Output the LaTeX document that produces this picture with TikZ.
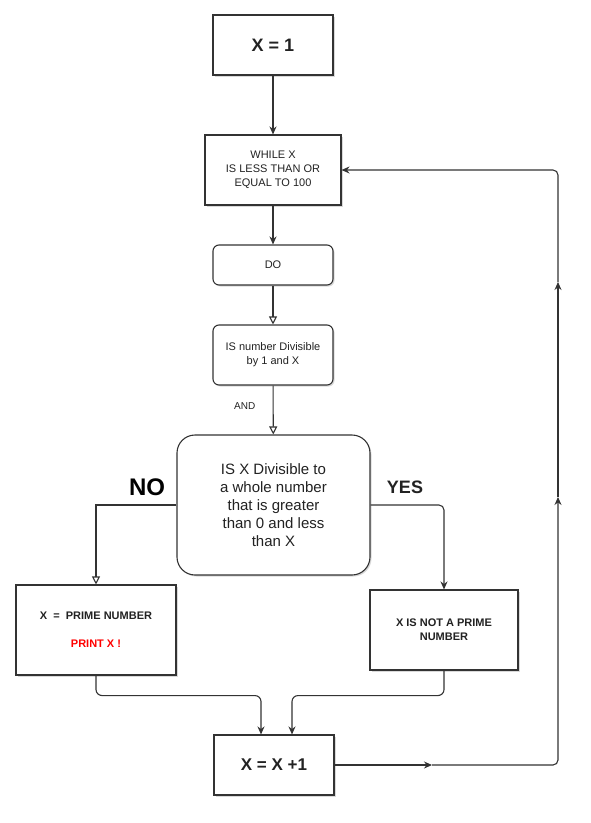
\documentclass[tikz,border=0pt]{standalone}
\usepackage{fontspec}
\setmainfont{Liberation Sans}
\usetikzlibrary{positioning,arrows.meta,shadows}
\definecolor{txtgray}{HTML}{222222}
\definecolor{linegray}{HTML}{333333}

\begin{document}
\begin{tikzpicture}[
	%	style def
    x=1pt, y=-1pt,
    plainbox/.style={draw=linegray, fill=white, line width=1.1pt, inner sep=2pt, align=center,
        text=txtgray, drop shadow={opacity=0.3, shadow xshift=1.5pt, shadow yshift=-1.5pt}},
    roundbox/.style={plainbox, rounded corners=6pt},
    conn/.style={draw=linegray, line width=1.1pt},
    arr/.style={conn, -{Stealth[length=8pt, width=7pt]}},
    hollow/.style={conn, -{Triangle[open, length=8pt, width=8pt]}},
    every node/.style={font=\fontsize{11}{14}\selectfont}
    ]
    \useasboundingbox (0,0) rectangle (591,823);

	% main column
	\node[plainbox, minimum width=120, minimum height=60, font=\fontsize{18}{20}\selectfont\bfseries] (start) at (273,45) {X = 1};
	\node[plainbox, minimum width=136, minimum height=70] (while) at (273,170) {WHILE X\\IS LESS THAN OR\\EQUAL TO 100};
	\node[roundbox, minimum width=120, minimum height=40] (do) at (273,265) {DO};
	\node[roundbox, minimum width=120, minimum height=60] (isnum) at (273,355) {IS number Divisible\\by 1 and X};
	\node[roundbox, rounded corners=18pt, minimum width=193, minimum height=140, font=\fontsize{15}{18}\selectfont] (check) at (273.5,505)
	    {IS X Divisible to\\a whole number\\that is greater\\than 0 and less\\than X};

	% branches
	\node[plainbox, minimum width=160, minimum height=90, font=\fontsize{11}{13}\selectfont\bfseries] (prime) at (96,630)
	    {X \ = \ PRIME NUMBER\\[15pt]\textcolor{red}{PRINT X !}};
	\node[plainbox, minimum width=148, minimum height=80, font=\fontsize{11}{14}\selectfont\bfseries] (notprime) at (444,630)
	    {X IS NOT A PRIME\\NUMBER};
	\node[plainbox, minimum width=120, minimum height=60, font=\fontsize{17}{20}\selectfont\bfseries] (incr) at (274,765) {X = X +1};

	% branch labels
	\node[font=\fontsize{24}{26}\selectfont\bfseries] (nolbl) at (147,487) {NO};
	\node[font=\fontsize{18}{20}\selectfont\bfseries, text=txtgray] (yeslbl) at (405,487) {YES};

	% loop points
	\coordinate (m1) at (432,765);
	\coordinate (loopB) at (558,765);
	\coordinate (m2) at (558,497);
	\coordinate (m3) at (558,282);
	\coordinate (loopT) at (558,170);

	% connections
	\draw[arr] (start) -- (while);
	\draw[arr] (while) -- (do);
	\draw[hollow] (do) -- (isnum);
	\draw[hollow] (isnum) -- node[pos=0.42, left=14pt, font=\fontsize{10}{12}\selectfont, text=txtgray] (andlbl) {AND} (check);
	\draw[hollow] (check.west) -| (prime.north);
	\draw[arr, rounded corners=5pt] (check.east) -| (notprime.north);
	\draw[arr, rounded corners=6pt] (prime.south) -- ++(0,20) -| ([xshift=-13pt]incr.north);
	\draw[arr, rounded corners=6pt] (notprime.south) -- ++(0,25) -| ([xshift=18pt]incr.north);

	% back to the loop test
	\draw[arr] (incr.east) -- (m1);
	\draw[arr, rounded corners=5pt] (m1) -- (loopB) -- (m2);
	\draw[arr] (m2) -- (m3);
	\draw[arr, rounded corners=5pt] (m3) -- (loopT) -- (while.east);
\end{tikzpicture}
\end{document}
